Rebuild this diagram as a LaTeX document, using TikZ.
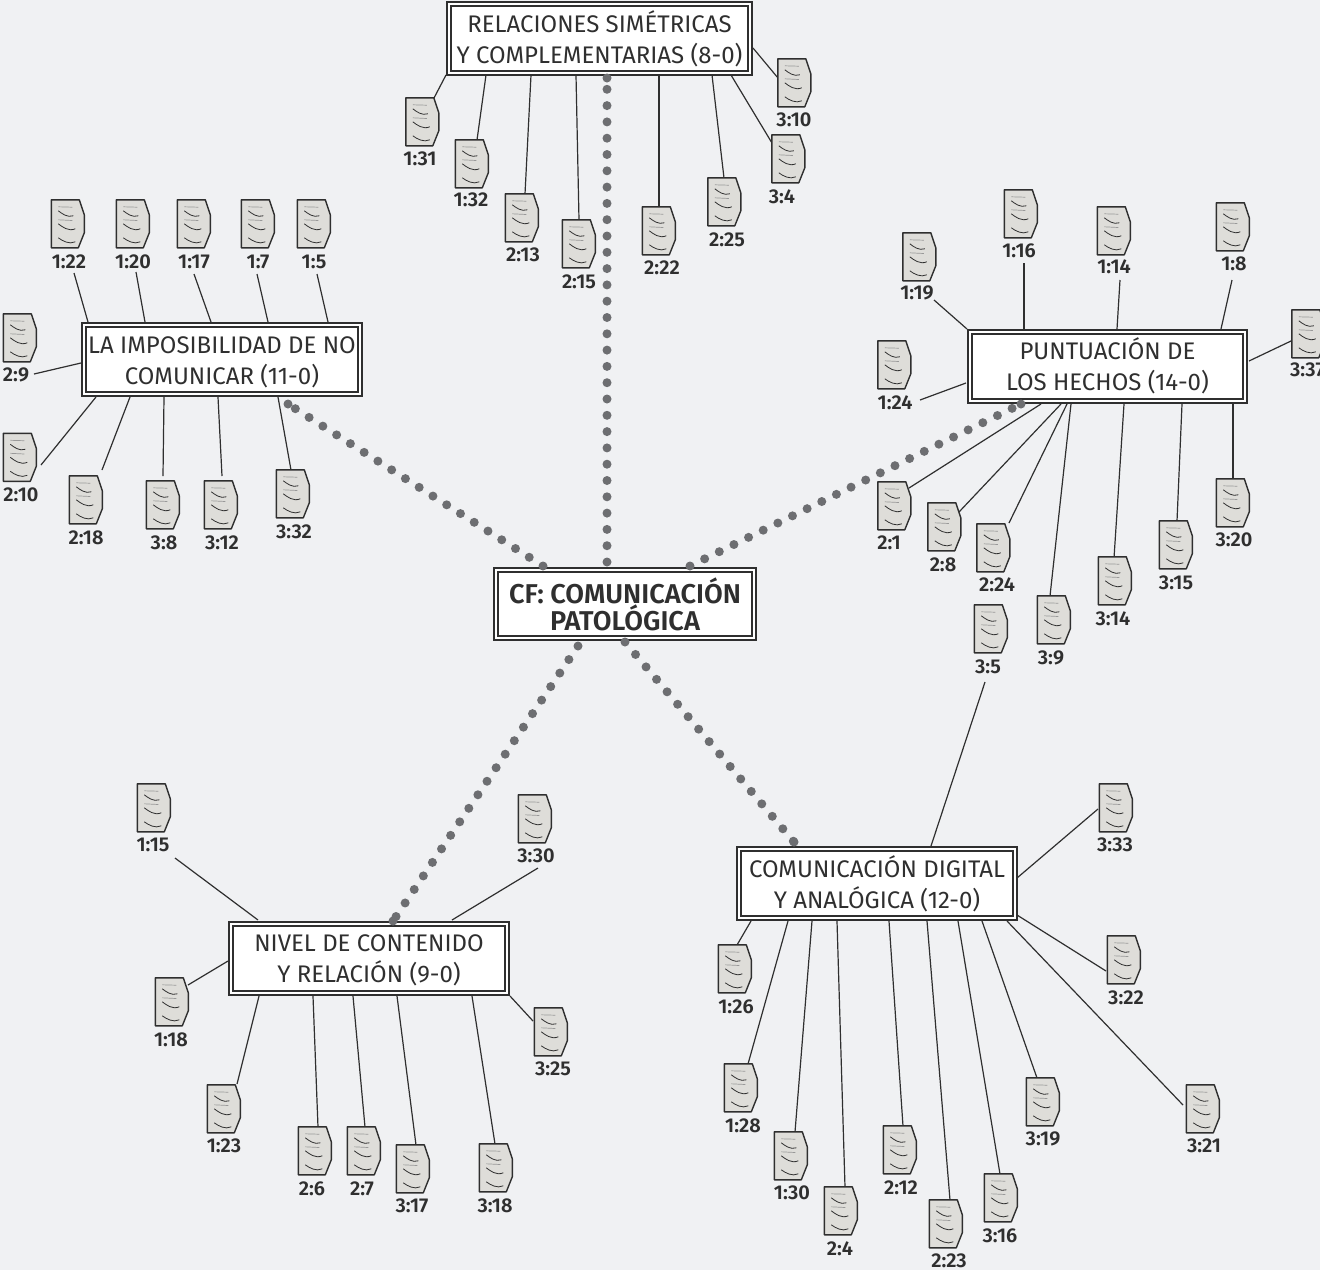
\documentclass[tikz,border=0pt]{standalone}
\usepackage{fontspec}
\setmainfont{Fira Sans}
\newfontfamily\lightf{Fira Sans}
\newfontfamily\boldf{Fira Sans SemiBold}
\definecolor{bgc}{HTML}{F0F1F3}
\definecolor{inkc}{HTML}{2F2F2F}
\definecolor{dotc}{HTML}{6D6E71}
\definecolor{docc}{HTML}{DEDDD9}
\newcommand{\tst}[1]{\rule[-8pt]{0pt}{#1pt}}
\tikzset{
  dbox/.style={draw=inkc,line width=2pt,double=white,double distance=2pt,fill=white,inner sep=0pt,align=center,text=inkc,font=\lightf\fontsize{24}{31}\selectfont},
  dociconbox/.style={inner sep=0pt,minimum width=33pt,minimum height=48pt},
  doclabel/.style={inner sep=0pt,text=inkc,font=\boldf\fontsize{20}{22}\selectfont},
  link/.style={draw=inkc,line width=1.2pt},
  dotlink/.style={draw=dotc,line width=9pt,line cap=round,dash pattern=on 0pt off 16.3pt},
}
\newcommand{\docs}[4]{%
  \foreach \n/\cx/\cy/\lb/\lx/\ly/\ax/\ay/\bx/\by in {#4}{
    \node[dociconbox] (d\n) at (\cx,\cy) {};
    \node[doclabel] (l\n) at (\lx,\ly) {\lb};
    \draw[link] ([shift={({\ax-\cx},{\ay-\cy})}]d\n.center) -- ([shift={({\bx-#2},{\by-#3})}]#1.center);
    \draw[draw=inkc,fill=docc,line width=1.4pt,line join=round,shift={(d\n.north west)}]
      (0,0) -- (28,0) -- (33,15) -- (33,33) -- (27,48) -- (0,48) -- cycle;
    \draw[draw=black!40,line width=.7pt,shift={(d\n.north west)}] (7,7) -- (21,7.4) (7,20) -- (21,20.7);
    \draw[draw=inkc,line width=.8pt,shift={(d\n.north west)}]
      (7,11) .. controls (11,14) and (16,18) .. (22,16)
      (7,24) .. controls (11,27) and (17,32) .. (24,29)
      (7,38) .. controls (11,41) and (18,45) .. (24,42);
  }%
}
\newcommand{\dotlk}[4]{%
  \coordinate (e#2) at ([shift={(#4)}]#2.center);
  \draw[dotlink] ([shift={(#3)}]#1.center) -- (e#2);
  \fill[dotc] (e#2) circle (4.5pt);
}
\begin{document}
\begin{tikzpicture}[x=1pt,y=-1pt]
\useasboundingbox[fill=bgc] (0,0) rectangle (1320,1270);
\node[dbox,minimum width=301pt,minimum height=69pt] (rs) at (599.5,38) {\tst{36}RELACIONES SIMÉTRICAS\\Y COMPLEMENTARIAS (8-0)\tst{20}};
\node[dbox,minimum width=276pt,minimum height=69pt] (lim) at (222,359.5) {\tst{35}LA IMPOSIBILIDAD DE NO\\COMUNICAR (11-0)\tst{20}};
\node[dbox,minimum width=275pt,minimum height=69pt] (pun) at (1107.5,366.5) {\tst{33}PUNTUACIÓN DE\\LOS HECHOS (14-0)\tst{20}};
\node[dbox,minimum width=276pt,minimum height=69pt] (dig) at (877,883) {\tst{35}COMUNICACIÓN DIGITAL\\Y ANALÓGICA (12-0)\tst{20}};
\node[dbox,minimum width=276pt,minimum height=69pt] (niv) at (369,958.5) {\tst{33}NIVEL DE CONTENIDO\\Y RELACIÓN (9-0)\tst{20}};
\node[dbox,minimum width=258pt,minimum height=68pt,font=\boldf\fontsize{27.2}{27}\selectfont] (cf) at (625,604) {CF: COMUNICACIÓN\\PATOLÓGICA};
\docs{rs}{599.5}{38}{
131/422.5/122/1:31/420/159/434/98/446/75,
132/472/164/1:32/471/200/477/140/486/75,
213/522/218/2:13/523/255/525/194/531/75,
215/579/244/2:15/579/282/579/220/576/75,
222/659/231/2:22/662/268/659/207/659/75,
225/724.5/202/2:25/727/240/724/178/712/75,
34/788.5/159/3:4/782/197/772/143/731/75,
310/794.5/83/3:10/794/120/778/78/753/48}
\docs{lim}{222}{359.5}{
122/68/224/1:22/69/262/74/273/88/322,
120/133/224/1:20/133/262/136/272/145/322,
117/194/224/1:17/194/262/194/274/211/322,
17/258/224/1:7/258/262/257/274/268/322,
15/314/224/1:5/314/262/317/274/328/322,
29/20/338/2:9/16/375/34/374/81/363,
210/20/457.5/2:10/21/495/41/465/96/397,
218/86/500/2:18/86/538/102/470/130/397,
38/163/505/3:8/164/543/163/476/164/397,
312/221/505/3:12/222/543/222/476/218/397,
332/293/494/3:32/294/532/291/470/278/397}
\docs{pun}{1107.5}{366.5}{
119/919.5/257/1:19/917/293/934/300/967/329,
116/1021/214/1:16/1019/251/1024/263/1024/329,
114/1114/231/1:14/1114/267/1120/280/1117/329,
18/1233/227/1:8/1234/264/1232/280/1221/329,
337/1308.5/334/3:37/1307.5/370/1291/341/1249/361,
124/894.5/365/1:24/895/403/920/400/966/383,
21/894.5/506/2:1/889/543/909/488/1041/404,
28/944.5/527/2:8/943/565/959/512/1061/404,
224/993.5/548/2:24/997/585/1009/523/1067/404,
39/1054/620/3:9/1051/658/1050/596/1071/404,
314/1115/581/3:14/1113/619/1114/558/1124/404,
315/1176/545/3:15/1176/583/1177/521/1182/404,
320/1233/503/3:20/1234/540/1233/478/1233/404}
\docs{dig}{877}{883}{
35/991/629/3:5/988/667/985/682/931/846,
333/1116/808/3:33/1115/845/1098/809/1017/878,
126/735/969/1:26/736/1007/737/945/751/921,
128/741/1088/1:28/743/1126/748/1064/788/921,
130/791/1156/1:30/792/1193/795/1132/812/921,
24/841/1211/2:4/840/1249/845/1187/837/921,
212/900/1150/2:12/901/1188/903/1126/889/921,
223/946/1224/2:23/949/1261/950/1200/927/921,
316/1001/1198/3:16/1000/1236/1000/1174/958/921,
319/1043/1102/3:19/1043/1139/1037/1078/982/921,
321/1203/1109/3:21/1204/1146/1183/1105/1007/921,
322/1124/960/3:22/1126/998/1106/971/1017/915}
\docs{niv}{369}{958.5}{
115/154/808/1:15/153/845/175/858/258/920,
330/535/819/3:30/536/856/538/868/452/920,
118/172/1002/1:18/171/1040/188/985/228/961,
123/224/1109/1:23/224/1146/237/1084/259/996,
26/315/1151/2:6/312/1189/318/1127/313/996,
27/364/1151/2:7/362/1189/365/1127/353/996,
317/413/1169/3:17/412/1206/416/1145/397/996,
318/496/1168/3:18/495/1206/495/1144/472/996,
325/551/1032/3:25/553/1069/533/1021/510/996}
\dotlk{cf}{rs}{-18,-42}{7.5,40}
\dotlk{cf}{lim}{-82,-38}{66,44.5}
\dotlk{cf}{pun}{65,-38}{-86.5,37.5}
\dotlk{cf}{niv}{-47,42}{24,-37.5}
\dotlk{cf}{dig}{0,38}{-83,-41}
\end{tikzpicture}
\end{document}
